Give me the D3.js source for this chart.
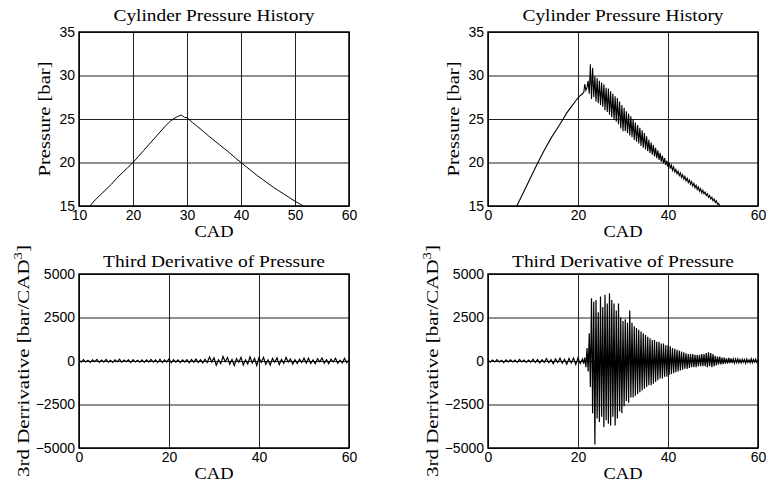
<!DOCTYPE html>
<html>
<head>
<meta charset="utf-8">
<script src="https://cdn.jsdelivr.net/npm/d3@7"></script>
<style>
   body { margin: 0; background: #fff; }
   .tick text { font-family: "Liberation Sans", Arial, sans-serif; font-size: 14px; fill: #000; }
   .lbl { font-family: "Liberation Serif", "Times New Roman", serif; fill: #000; }
</style>
</head>
<body>
<svg id="chart" width="767" height="485"></svg>
<script>
// ---- data ----

// top-left: cylinder pressure, normal combustion  [CAD, bar]
var pressNormal = [
   [11, 14.4], [12, 15.0], [13, 15.7], [14, 16.3], [15, 16.9], [16, 17.5], [17, 18.2], [18, 18.8],
   [19, 19.4], [20, 20.0], [21, 20.7], [22, 21.4], [23, 22.1], [24, 22.8], [25, 23.5], [26, 24.2],
   [27, 24.8], [28, 25.2], [28.5, 25.35], [29, 25.45], [29.5, 25.2], [30, 25.15], [31, 24.6],
   [32, 24.1], [33, 23.6], [34, 23.05], [35, 22.55], [36, 22.05], [37, 21.55], [38, 21.05], [39, 20.5],
   [40, 20.0], [41, 19.5], [42, 19.0], [43, 18.5], [44, 18.05], [45, 17.6], [46, 17.15], [47, 16.75],
   [48, 16.35], [49, 15.95], [50, 15.55], [51, 15.2], [52, 14.85], [53, 14.5]
];

// top-right: cylinder pressure, knocking cycle - smooth rise [CAD, bar]
var pressKnockRise = [
   [5.5, 14.0], [6.4, 15.0], [8, 16.7], [9.5, 18.3], [11.1, 20.0], [12.5, 21.4], [14, 22.8],
   [15.5, 24.0], [16.7, 25.0], [17.5, 25.7], [18.5, 26.4], [19.5, 27.1], [20.3, 27.6],
   [21.0, 27.9], [21.3, 28.1], [21.5, 29.0], [21.75, 28.3]
];
// knocking oscillation, sampled every 0.25 CAD from 22 CAD [bar]
var knockStart = 22, knockStep = 0.25;
var pressKnockOsc = [
   28.6, 29.4, 27.9, 31.3, 27.3, 30.9, 27.5, 29.9, 27.0, 29.7,
   26.8, 29.4, 26.6, 29.2, 26.4, 29.0, 26.0, 28.6, 25.8, 28.5,
   25.5, 28.2, 25.2, 27.9, 24.9, 27.6, 24.7, 27.4, 24.4, 27.0,
   23.9, 26.6, 23.6, 26.3, 23.6, 25.9, 23.4, 25.6, 23.1, 25.3,
   22.9, 25.0, 22.6, 24.6, 22.4, 24.3, 22.2, 24.0, 21.9, 23.7,
   21.7, 23.4, 21.5, 23.0, 21.3, 22.6, 21.1, 22.3, 20.9, 22.0,
   20.7, 21.7, 20.5, 21.4, 20.3, 21.1, 20.1, 20.8, 19.9, 20.5,
   19.7, 20.2, 19.5, 20.0, 19.3, 19.7, 19.1, 19.5, 18.9, 19.2,
   18.7, 19.0, 18.5, 18.8, 18.3, 18.6, 18.1, 18.4, 17.9, 18.2,
   17.7, 18.0, 17.5, 17.8, 17.3, 17.6, 17.1, 17.4, 16.9, 17.2,
   16.7, 17.0, 16.5, 16.8, 16.4, 16.6, 16.2, 16.4, 16.0, 16.2,
   15.8, 16.0, 15.6, 15.8, 15.4, 15.6, 15.2, 15.3, 15.0, 14.9,
   14.6
];

// bottom-left: third derivative, normal cycle, every 0.5 CAD from 0 [bar/CAD^3]
var derivStep = 0.5;
var derivNormal = [
   60, -70, 80, -50, 40, -80, 70, -40, 90, -80,
   50, -60, 90, -70, 40, -80, 70, -50, 100, -80,
   60, -40, 70, -90, 80, -60, 40, -70, 60,
   -80, 70, -60, 90, -70, 60, -90, 100, -90, 70, -60, 120,
   -100, 80, -70, 60, -90, 70, -60, 80, -100, 90, -70, 110, -80, 70, -110, 100,
   -90, 230, -60, 180, -240, 70, -150, 260, -40, 200, -180, 90,
   -260, 130, -70, 210, -230, 60, -170, 240, -110, 150, -250, 190,
   -80, 210, -190, 60, -230, 150, -70, 180, -210, 90,
   -140, 200, -60, 120, -180, 70, -150, 110, -90, 160,
   -120, 160, -140, 60, -160, 130, -50, 170, -130, 80,
   -150, 110, -60, 160, -130, 50, -110, 150, -90, 70
];

// bottom-right: third derivative, knocking cycle
// quiet part every 0.5 CAD from 0
var derivKnockPre = [
   60, -70, 50, -60, 80, -50, 40, -90, 60, -50,
   70, -60, 50, -80, 90, -50, 60, -80, 50, -60,
   100, -90, 80, -110, 70, -80, 130, -100, 80, -150,
   120, -90, 160, -130, 100, -180, 150, -110, 170, -200,
   180, -150
];
// ringing part every 0.25 CAD from 21 CAD
var ringStart = 21, ringStep = 0.25;
var derivKnockRing = [
   120, -150, 200, -350, 750, -600, 1600, -1500, 3600, -3000,
   3400, -4800, 3500, -3300, 2800, -3500, 3700, -3200, 3100, -3800,
   3800, -3400, 3300, -3600, 3900, -3700, 3500, -3200, 3300, -3700,
   2900, -3300, 3300, -2900, 2500, -3000,
   2300, -2600, 2400, -2300, 2200, -2400, 2900, -2100,
   2200, -2100, 2000, -2000, 1900, -1900, 1800, -1800,
   1700, -1700, 1600, -1600, 1500, -1500, 1400, -1400,
   1300, -1400, 1200, -1300, 1200, -1200, 1100, -1100,
   1100, -1000, 1000, -1000, 1000, -900, 900, -900,
   900, -800, 850, -750, 750, -700, 700, -650,
   650, -600, 600, -550, 550, -500, 500, -450,
   450, -450, 400, -400, 400, -350, 400, -350,
   350, -350, 350, -300, 350, -300, 400, -300,
   400, -300, 450, -350, 500, -300, 450, -350,
   400, -300, 300, -250, 250, -200, 250, -200,
   200, -180, 200, -150, 150, -150, 180, -120,
   150, -120, 120, -130,
   110, -90, 120, -100, 80, -110, 100, -70, 90, -120,
   100, -80, 70, -100, 120, -90, 80, -60, 100, -80,
   60
];

// axis ticks
var ticksCad10 = [10, 20, 30, 40, 50, 60];
var ticksCad0 = [0, 20, 40, 60];
var ticksPress = [15, 20, 25, 30, 35];
var ticksDeriv = [-5000, -2500, 0, 2500, 5000];

// build point lists
var knockPoints = pressKnockRise.concat(
   pressKnockOsc.map((v, i) => [knockStart + i * knockStep, v]));
var derivNormalPoints = derivNormal.map((v, i) => [i * derivStep, v]);
var derivKnockPoints = derivKnockPre.map((v, i) => [i * derivStep, v])
   .concat(derivKnockRing.map((v, i) => [ringStart + i * ringStep, v]));

var panels = [
   {x0: 79, y0: 32, xDom: [10, 60], xTicks: ticksCad10, yDom: [15, 35], yTicks: ticksPress,
      title: 'Cylinder Pressure History', titleY: 21, titleLen: 201,
      yLabel: 'Pressure [bar]', yLabelLen: 115, yLabelGap: 29, lw: 1, data: pressNormal},
   {x0: 488, y0: 32, xDom: [0, 60], xTicks: ticksCad0, yDom: [15, 35], yTicks: ticksPress,
      title: 'Cylinder Pressure History', titleY: 21, titleLen: 201,
      yLabel: 'Pressure [bar]', yLabelLen: 115, yLabelGap: 29, lw: 1.1, data: knockPoints},
   {x0: 79, y0: 274, xDom: [0, 60], xTicks: ticksCad0, yDom: [-5000, 5000], yTicks: ticksDeriv,
      title: 'Third Derivative of Pressure', titleY: 267, titleLen: 222,
      yLabel: '3rd Derrivative [bar/CAD', yLabelLen: 232, yLabelGap: 50, sup: true, lw: 1.2, data: derivNormalPoints},
   {x0: 488, y0: 274, xDom: [0, 60], xTicks: ticksCad0, yDom: [-5000, 5000], yTicks: ticksDeriv,
      title: 'Third Derivative of Pressure', titleY: 267, titleLen: 222,
      yLabel: '3rd Derrivative [bar/CAD', yLabelLen: 232, yLabelGap: 50, sup: true, lw: 1.2, data: derivKnockPoints}
];

var w = 270, h = 174;
var svg = d3.select('#chart');

panels.forEach((p, k) => {
   var x = d3.scaleLinear().domain(p.xDom).range([0, w]);
   var y = d3.scaleLinear().domain(p.yDom).range([h, 0]);

   var g = svg.append('g').attr('transform', `translate(${p.x0},${p.y0})`);

   g.append('clipPath').attr('id', 'clip' + k)
      .append('rect').attr('width', w).attr('height', h);

   // grid
   g.append('g')
      .attr('transform', `translate(0,${h})`)
      .call(d3.axisBottom(x).tickValues(p.xTicks).tickSize(-h).tickFormat(''))
      .call(s => s.select('.domain').remove())
      .selectAll('line').attr('stroke', '#222').attr('stroke-width', 1);
   g.append('g')
      .call(d3.axisLeft(y).tickValues(p.yTicks).tickSize(-w).tickFormat(''))
      .call(s => s.select('.domain').remove())
      .selectAll('line').attr('stroke', '#222').attr('stroke-width', 1);

   // data
   var line = d3.line().x(d => x(d[0])).y(d => y(d[1]));
   g.append('path')
      .datum(p.data)
      .attr('clip-path', `url(#clip${k})`)
      .attr('d', line)
      .attr('fill', 'none')
      .attr('stroke', '#000')
      .attr('stroke-width', p.lw);

   // box
   g.append('rect')
      .attr('width', w).attr('height', h)
      .attr('fill', 'none').attr('stroke', '#000').attr('stroke-width', 1.5);

   // tick labels
   g.append('g')
      .attr('transform', `translate(0,${h})`)
      .call(d3.axisBottom(x).tickValues(p.xTicks).tickSize(0).tickPadding(4).tickFormat(d3.format('d')))
      .call(s => s.select('.domain').remove());
   g.append('g')
      .call(d3.axisLeft(y).tickValues(p.yTicks).tickSize(0).tickPadding(4).tickFormat(d3.format('d')))
      .call(s => s.select('.domain').remove());

   // title
   svg.append('text').attr('class', 'lbl')
      .attr('x', p.x0 + w / 2).attr('y', p.titleY)
      .attr('text-anchor', 'middle')
      .attr('font-size', 17)
      .attr('textLength', p.titleLen).attr('lengthAdjust', 'spacingAndGlyphs')
      .text(p.title);

   // x label
   svg.append('text').attr('class', 'lbl')
      .attr('x', p.x0 + w / 2).attr('y', p.y0 + h + 30.5)
      .attr('text-anchor', 'middle')
      .attr('font-size', 17)
      .attr('textLength', 39).attr('lengthAdjust', 'spacingAndGlyphs')
      .text('CAD');

   // y label
   var yl = svg.append('text').attr('class', 'lbl')
      .attr('transform', `translate(${p.x0 - p.yLabelGap},${p.y0 + h / 2}) rotate(-90)`)
      .attr('text-anchor', 'middle')
      .attr('font-size', 17)
      .attr('textLength', p.yLabelLen).attr('lengthAdjust', 'spacingAndGlyphs');
   yl.append('tspan').text(p.yLabel);
   if (p.sup) {
      yl.append('tspan').attr('font-size', 12).attr('dy', -7).text('3');
      yl.append('tspan').attr('dy', 7).text(']');
   }
});
</script>
</body>
</html>
